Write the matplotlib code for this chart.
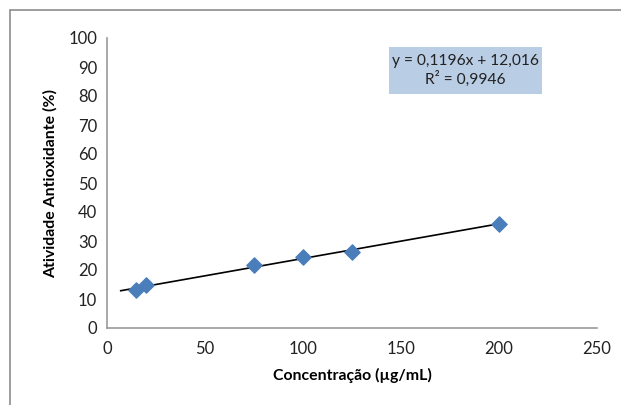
import matplotlib
matplotlib.use("Agg")
import matplotlib.pyplot as plt
import matplotlib.patches as patches
import numpy as np

plt.rcParams['font.family'] = ['Lato', 'DejaVu Sans']

# data
concentracao = [15, 20, 75, 100, 125, 200]
atividade = [13.2, 14.9, 21.6, 24.5, 26.2, 36.0]

# trendline as printed on the chart
slope = 0.1196
intercept = 12.016
trend_x = np.array([7, 200])
eq_text = "y = 0,1196x + 12,016\nR² = 0,9946"

fig = plt.figure(figsize=(6.21, 4.05), dpi=100)
W, H = 621, 405
ax = fig.add_axes([107 / W, (H - 328) / H, 490 / W, 290 / H])

# outer chart frame (cut by the image border)
frame = patches.Rectangle((9.5 / W, -0.1), 1.2, 1.1 - 10 / H,
                          transform=fig.transFigure, fill=False,
                          edgecolor='#8c8c8c', linewidth=1.2, clip_on=False)
fig.patches.append(frame)

ax.plot(trend_x, slope * trend_x + intercept, color='black', linewidth=1.2, zorder=2)
ax.scatter(concentracao, atividade, marker='D', s=60, color='#4a7ebb',
           edgecolors='#4a7ebb', zorder=3)

ax.set_xlim(0, 250)
ax.set_ylim(0, 100)
ax.set_xticks(np.arange(0, 251, 50))
ax.set_yticks(np.arange(0, 101, 10))
ax.tick_params(length=0, labelsize=12, colors='#222222', pad=7)
ax.tick_params(axis='x', pad=9)

for side in ['top', 'right']:
    ax.spines[side].set_visible(False)
for side in ['left', 'bottom']:
    ax.spines[side].set_color('#9a9a9a')
    ax.spines[side].set_linewidth(1.2)

ax.set_xlabel("Concentração (µg/mL)", fontsize=11.4, fontweight='bold', labelpad=8)
ax.set_ylabel("Atividade Antioxidante (%)", fontsize=11.4, fontweight='bold', labelpad=8)

# equation box
box = patches.Rectangle((389 / W, (H - 94) / H), 153 / W, 47 / H,
                        transform=fig.transFigure, facecolor='#b9cde5',
                        edgecolor='none')
fig.patches.append(box)
fig.text(465 / W, (H - 70.5) / H, eq_text, ha='center', va='center',
         fontsize=11.2, linespacing=1.2, color='#222222')

fig.savefig("out.png", dpi=100)
